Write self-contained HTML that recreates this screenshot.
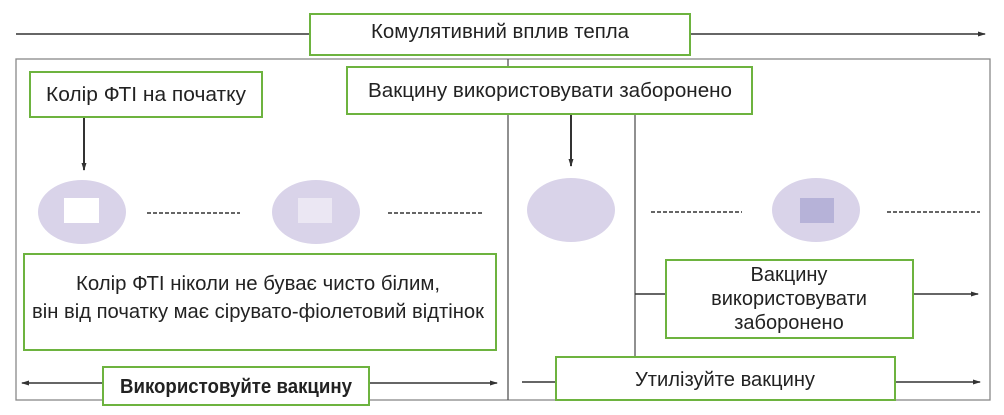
<!DOCTYPE html>
<html><head><meta charset="utf-8"><style>
body{margin:0;background:#fff;}
svg text{font-family:"Liberation Sans",sans-serif;fill:#222;}
</style></head><body>
<svg width="1004" height="410" viewBox="0 0 1004 410" xmlns="http://www.w3.org/2000/svg">
<defs><marker id="a" markerWidth="8" markerHeight="8" refX="7" refY="4" orient="auto" markerUnits="userSpaceOnUse"><path d="M0,1.5 L8,4 L0,6.5 Z" fill="#333"/></marker></defs>
<g stroke="#555" fill="none" stroke-width="1.3">
<rect x="16" y="59" width="974" height="341" stroke="#888"/>
<line x1="508" y1="59" x2="508" y2="400"/>
<line x1="635" y1="114" x2="635" y2="400"/>
</g>
<g stroke="#333" stroke-width="1.5" fill="none">
<line x1="16" y1="34" x2="310" y2="34"/>
<line x1="690" y1="34" x2="985" y2="34" marker-end="url(#a)"/>
<line x1="84" y1="117" x2="84" y2="170" stroke-width="2" marker-end="url(#a)"/>
<line x1="571" y1="114" x2="571" y2="166" stroke-width="2" marker-end="url(#a)"/>
<line x1="103" y1="383" x2="22" y2="383" marker-end="url(#a)"/>
<line x1="369" y1="383" x2="497" y2="383" marker-end="url(#a)"/>
<line x1="522" y1="382" x2="556" y2="382"/>
<line x1="895" y1="382" x2="980" y2="382" marker-end="url(#a)"/>
<line x1="635" y1="294" x2="666" y2="294"/>
<line x1="913" y1="294" x2="978" y2="294" marker-end="url(#a)"/>
<g stroke-dasharray="4,2" stroke-width="1.6">
<line x1="147" y1="213" x2="240" y2="213"/>
<line x1="388" y1="213" x2="482" y2="213"/>
<line x1="651" y1="212" x2="742" y2="212"/>
<line x1="887" y1="212" x2="980" y2="212"/>
</g>
</g>
<g fill="#d9d3e9">
<ellipse cx="82" cy="212" rx="44" ry="32"/>
<ellipse cx="316" cy="212" rx="44" ry="32"/>
<ellipse cx="571" cy="210" rx="44" ry="32"/>
<ellipse cx="816" cy="210" rx="44" ry="32"/>
</g>
<rect x="64" y="198" width="35" height="25" fill="#fff"/>
<rect x="298" y="198" width="34" height="25" fill="#ebe7f3"/>
<rect x="800" y="198" width="34" height="25" fill="#b6b2d8"/>
<g fill="#fff" stroke="#6db33f" stroke-width="2">
<rect x="310" y="14" width="380" height="41"/>
<rect x="30" y="72" width="232" height="45"/>
<rect x="347" y="67" width="405" height="47"/>
<rect x="24" y="254" width="472" height="96"/>
<rect x="666" y="260" width="247" height="78"/>
<rect x="103" y="367" width="266" height="38"/>
<rect x="556" y="357" width="339" height="43"/>
</g>
<g font-size="20" text-anchor="middle">
<text x="500" y="38" textLength="258" lengthAdjust="spacingAndGlyphs">Комулятивний вплив тепла</text>
<text x="146" y="101" textLength="200" lengthAdjust="spacingAndGlyphs">Колір ФТІ на початку</text>
<text x="550" y="97" textLength="364" lengthAdjust="spacingAndGlyphs">Вакцину використовувати заборонено</text>
<text x="258" y="290" textLength="364" lengthAdjust="spacingAndGlyphs">Колір ФТІ ніколи не буває чисто білим,</text>
<text x="258" y="318" textLength="452" lengthAdjust="spacingAndGlyphs">він від початку має сірувато-фіолетовий відтінок</text>
<text x="789" y="281">Вакцину</text>
<text x="789" y="305">використовувати</text>
<text x="789" y="329">заборонено</text>
<text x="236" y="393" font-weight="bold" textLength="232" lengthAdjust="spacingAndGlyphs">Використовуйте вакцину</text>
<text x="725" y="386" textLength="180" lengthAdjust="spacingAndGlyphs">Утилізуйте вакцину</text>
</g>
</svg>
</body></html>
